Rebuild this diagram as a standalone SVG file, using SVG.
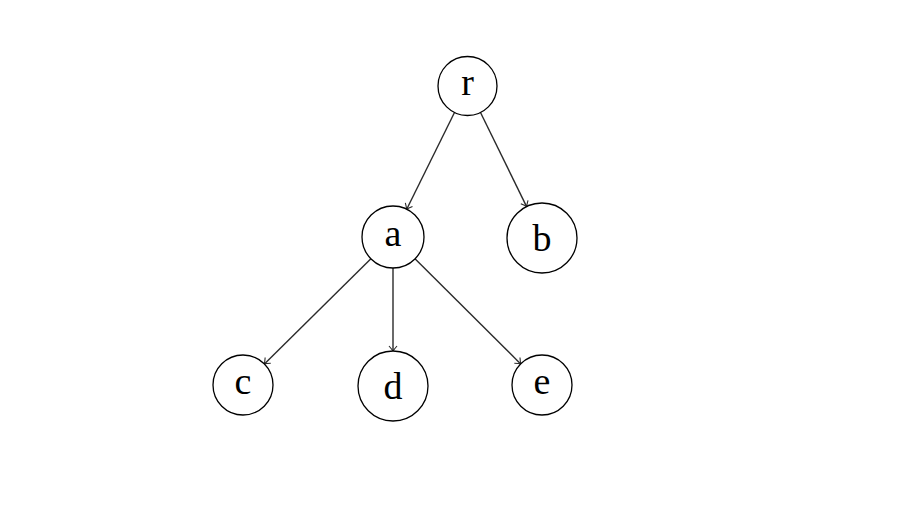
<svg xmlns="http://www.w3.org/2000/svg" width="914" height="516" viewBox="0 0 914 516">
<style>
.node circle{fill:#fff;stroke:#000;stroke-width:1.3}
.node text{font-family:"Liberation Serif","DejaVu Serif",serif;font-size:38px;text-anchor:middle;fill:#000}
.edges line{stroke:#2a2a2a;stroke-width:1.4;marker-end:url(#arr)}
</style>
<defs>
<marker id="arr" viewBox="-6 -5 7 10" refX="0" refY="0" markerWidth="7" markerHeight="10" markerUnits="userSpaceOnUse" orient="auto">
<path d="M-5,-4 Q-1.5,-1 0,0 Q-1.5,1 -5,4" fill="none" stroke="#2a2a2a" stroke-width="1.1"/>
</marker>
</defs>
<rect width="914" height="516" fill="#fff"/>
<g class="edges">
<line x1="454.5" y1="112.5" x2="406.7" y2="209.2"/>
<line x1="480.5" y1="112.5" x2="526.6" y2="206.6"/>
<line x1="370.9" y1="258.8" x2="264.4" y2="363.9"/>
<line x1="393" y1="268" x2="393" y2="351"/>
<line x1="415" y1="258.8" x2="520.7" y2="363.9"/>
</g>
<g id="node-r" class="node"><circle cx="467.5" cy="86" r="29.5"/><text x="467.5" y="95">r</text></g>
<g id="node-a" class="node"><circle cx="393" cy="237" r="31"/><text x="393" y="246">a</text></g>
<g id="node-b" class="node"><circle cx="542" cy="238" r="35"/><text x="542" y="251">b</text></g>
<g id="node-c" class="node"><circle cx="243" cy="385" r="30"/><text x="243" y="394">c</text></g>
<g id="node-d" class="node"><circle cx="393" cy="386" r="35"/><text x="393" y="399">d</text></g>
<g id="node-e" class="node"><circle cx="542" cy="385" r="30"/><text x="542" y="394">e</text></g>
</svg>
